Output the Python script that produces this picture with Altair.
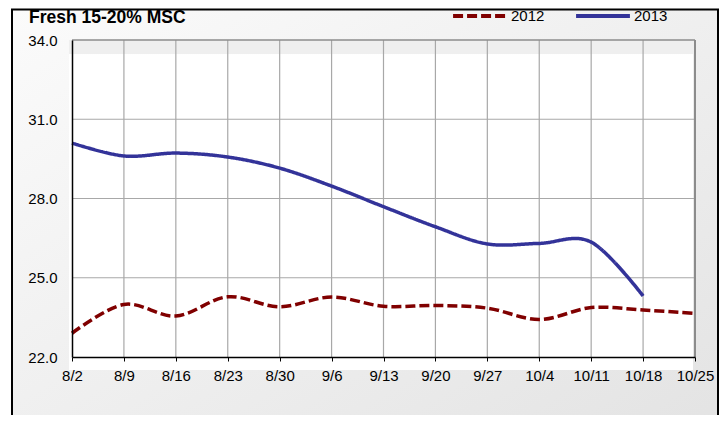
import altair as alt
import pandas as pd

# ---- data ----
dates = ["8/2", "8/9", "8/16", "8/23", "8/30", "9/6", "9/13", "9/20", "9/27",
         "10/4", "10/11", "10/18", "10/25"]
v2012 = [22.90, 23.99, 23.55, 24.28, 23.90, 24.27, 23.92, 23.95, 23.85,
         23.42, 23.87, 23.78, 23.65]
v2013 = [30.10, 29.61, 29.72, 29.57, 29.15, 28.47, 27.69, 26.93, 26.28,
         26.30, 26.35, 24.31, None]
series = ["2012", "2013"]
colors = ["#800000", "#333399"]
dashes = [[10, 4], [1, 0]]
y_ticks = [22, 25, 28, 31, 34]
title_text = "Fresh 15-20% MSC"

FONT = "Liberation Sans"

rows = []
for d, a, b in zip(dates, v2012, v2013):
    if a is not None:
        rows.append({"date": d, "value": a, "series": "2012"})
    if b is not None:
        rows.append({"date": d, "value": b, "series": "2013"})
df = pd.DataFrame(rows)
df_dates = pd.DataFrame({"date": dates[1:-1]})
df_yg = pd.DataFrame({"value": y_ticks[1:-1]})
df_xb = pd.DataFrame({"date": dates[-1:]})
df_yb = pd.DataFrame({"value": y_ticks[-1:]})

xscale = alt.Scale(type="point", domain=dates, padding=0)
yscale = alt.Scale(domain=[y_ticks[0], y_ticks[-1]], nice=False, zero=False)

xaxis = alt.Axis(title=None, labelAngle=0, labelFontSize=15, labelFont=FONT,
                 labelColor="black", domainColor="black", domainWidth=1.5,
                 tickColor="black", tickSize=4, tickWidth=1, labelPadding=7,
                 grid=False, zindex=1)
yaxis = alt.Axis(title=None, values=y_ticks, format=".1f", labelFontSize=15,
                 labelFont=FONT, labelColor="black", domainColor="black",
                 domainWidth=1.5, ticks=False, labelPadding=15, grid=False,
                 zindex=1)

X = alt.X("date:N", sort=dates, scale=xscale, axis=xaxis)
Y = alt.Y("value:Q", scale=yscale, axis=yaxis)

one = alt.Data(values=[{}])

frame = alt.Chart(one).mark_rect(
    fill=alt.Gradient(gradient="linear", x1=0, y1=0, x2=1, y2=1,
                      stops=[alt.GradientStop(color="#fbfbfb", offset=0),
                             alt.GradientStop(color="#e3e3e3", offset=1)]),
    stroke="black", strokeWidth=2,
).encode(x=alt.value(-60), x2=alt.value(646), y=alt.value(-30.5), y2=alt.value(400))

plotbg = alt.Chart(one).mark_rect(
    fill=alt.Gradient(gradient="linear", x1=0, y1=0, x2=0, y2=1,
                      stops=[alt.GradientStop(color="#efefef", offset=0),
                             alt.GradientStop(color="#efefef", offset=0.042),
                             alt.GradientStop(color="#ffffff", offset=0.044),
                             alt.GradientStop(color="#ffffff", offset=1)]),
    strokeWidth=0,
).encode(x=alt.value(-3), x2=alt.value(621), y=alt.value(0), y2=alt.value(330))

xgrid = alt.Chart(df_dates).mark_rule(color="#a8a8a8", strokeWidth=1.2).encode(x=X)
ygrid = alt.Chart(df_yg).mark_rule(color="#a8a8a8", strokeWidth=1.2).encode(y=Y)
xborder = alt.Chart(df_xb).mark_rule(color="#8c8c8c", strokeWidth=2).encode(x=X)
yborder = alt.Chart(df_yb).mark_rule(color="#8c8c8c", strokeWidth=1.5).encode(y=Y)

legend = alt.Legend(title=None, orient="none", legendX=379, legendY=-53,
                    direction="horizontal", symbolType="stroke",
                    symbolSize=2900, symbolStrokeWidth=4, labelFontSize=15,
                    labelFont=FONT, labelColor="black", labelOffset=2,
                    columnPadding=23, padding=0)

lines = alt.Chart(df).mark_line(interpolate="cardinal", strokeWidth=3.5).encode(
    x=X, y=Y,
    color=alt.Color("series:N", scale=alt.Scale(domain=series, range=colors),
                    legend=legend),
    strokeDash=alt.StrokeDash("series:N",
                              scale=alt.Scale(domain=series, range=dashes),
                              legend=legend),
)

title = alt.Chart(alt.Data(values=[{"t": title_text}])).mark_text(
    font=FONT, fontSize=17.5, fontWeight="bold", color="black",
    align="left", baseline="alphabetic",
).encode(x=alt.value(-43), y=alt.value(-17), text="t:N")

chart = alt.layer(frame, plotbg, xgrid, ygrid, xborder, yborder, lines, title).properties(
    width=623, height=317,
    padding={"left": 64, "top": 32, "right": 24, "bottom": 58},
    autosize=alt.AutoSizeParams(type="none"),
    background="white",
).configure_view(stroke=None)

chart.save("out.html", embed_options={"renderer": "svg", "actions": False})
